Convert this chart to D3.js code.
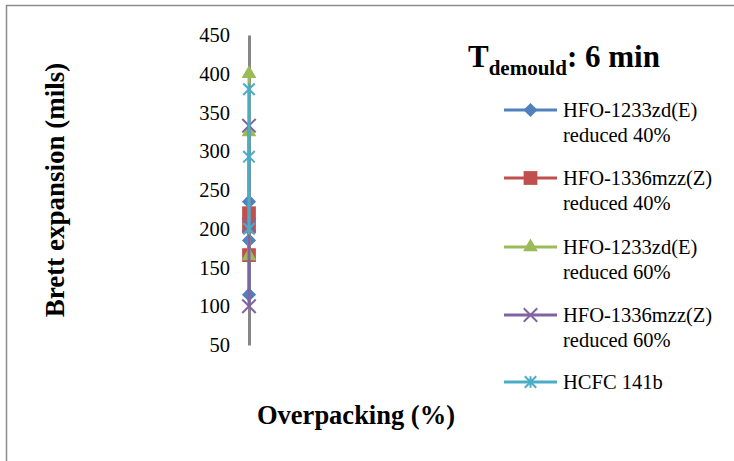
<!DOCTYPE html>
<html>
<head>
<meta charset="utf-8">
<script src="https://cdn.jsdelivr.net/npm/d3@7"></script>
<style>
  html, body { margin: 0; padding: 0; background: #fff; }
  svg { display: block; }
  svg text { font-family: "Liberation Serif", "Times New Roman", Tinos, "DejaVu Serif", serif; fill: #000; }
</style>
</head>
<body>
<svg id="chart" width="734" height="461"></svg>
<script>
// ---- data ----
const xCategories = [0];                 // all readings share one overpacking value
const yTicks = [50, 100, 150, 200, 250, 300, 350, 400, 450];
const seriesNames = [
  ["HFO-1233zd(E)", "reduced 40%"],
  ["HFO-1336mzz(Z)", "reduced 40%"],
  ["HFO-1233zd(E)", "reduced 60%"],
  ["HFO-1336mzz(Z)", "reduced 60%"],
  ["HCFC 141b"]
];
const hfo1233_40 = [235, 185, 115];
const hfo1336_40 = [220, 203, 166];
const hfo1233_60 = [400, 325, 165];
const hfo1336_60 = [333, 205, 100];
const hcfc141b   = [380, 293, 200];
const seriesValues = [hfo1233_40, hfo1336_40, hfo1233_60, hfo1336_60, hcfc141b];
const seriesColors = ["#4F81BD", "#C0504D", "#9BBB59", "#8064A2", "#4BACC6"];

const FONT = '"Liberation Serif", "Times New Roman", Tinos, "DejaVu Serif", serif';

// ---- layout ----
const svg = d3.select("#chart");
svg.append("rect").attr("x", 6.5).attr("y", 5.5).attr("width", 760).attr("height", 480)
  .attr("fill", "#fff").attr("stroke", "#8c8c8c").attr("stroke-width", 1.5);

const plotTop = 35, plotBottom = 345, axisX = 249;
const x = d3.scaleLinear().domain([0, 1]).range([axisX, 440]);
const y = d3.scaleLinear().domain([50, 450]).range([plotBottom, plotTop]);

// y axis
const yAxis = svg.append("g").attr("transform", `translate(${x(0)},0)`)
  .call(d3.axisLeft(y).tickValues(yTicks).tickSize(0).tickPadding(19).tickFormat(d3.format("d")));
yAxis.attr("font-family", FONT).attr("font-size", 20.5);
yAxis.select(".domain").attr("stroke", "#868686").attr("stroke-width", 3);
yAxis.selectAll("text").style("font-family", FONT).style("font-size", "20.5px").attr("fill", "#000");

// Excel-like star marker: an X plus a vertical stroke
const symbolStar = {
  draw(ctx, size) {
    const r = Math.sqrt(size) / 2;
    ctx.moveTo(-r, -r); ctx.lineTo(r, r);
    ctx.moveTo(r, -r); ctx.lineTo(-r, r);
    ctx.moveTo(0, -r); ctx.lineTo(0, r);
  }
};

// symbols
function symbolFor(i) {
  const gens = [
    d3.symbol().type(d3.symbolSquare).size(100),
    d3.symbol().type(d3.symbolSquare).size(190),
    d3.symbol().type(d3.symbolTriangle).size(95),
    d3.symbol().type(d3.symbolTimes).size(120),
    d3.symbol().type(symbolStar).size(130)
  ];
  return gens[i]();
}
function drawMarker(g, i, cx, cy) {
  const color = seriesColors[i];
  const p = g.append("path").attr("d", symbolFor(i));
  if (i === 0) p.attr("transform", `translate(${cx},${cy}) rotate(45)`);
  else p.attr("transform", `translate(${cx},${cy})`);
  if (i >= 3) p.attr("fill", "none").attr("stroke", color).attr("stroke-width", 2);
  else p.attr("fill", color);
}

// series
const line = d3.line().x(d => x(d.x)).y(d => y(d.y));
seriesValues.forEach((vals, i) => {
  const pts = vals.map(v => ({ x: xCategories[0], y: v }));
  const g = svg.append("g");
  g.append("path").attr("d", line(pts)).attr("fill", "none")
    .attr("stroke", seriesColors[i]).attr("stroke-width", 3);
  pts.forEach(p => drawMarker(g, i, x(p.x), y(p.y)));
});

// axis titles
svg.append("text").attr("transform", "translate(64,190) rotate(-90)")
  .attr("text-anchor", "middle").style("font-family", FONT).style("font-size", "27px").style("font-weight", "bold")
  .text("Brett expansion (mils)");
svg.append("text").attr("x", 356).attr("y", 424)
  .attr("text-anchor", "middle").style("font-family", FONT).style("font-size", "26.5px").style("font-weight", "bold")
  .text("Overpacking (%)");

// title
const title = svg.append("text").attr("x", 468).attr("y", 67).style("font-family", FONT)
  .style("font-weight", "bold").style("font-size", "31px");
title.append("tspan").text("T");
title.append("tspan").attr("dy", 8).style("font-size", "21px").text("demould");
title.append("tspan").attr("dy", -8).text(": 6 min");

// legend
const legendY = [110, 178, 247, 315, 382];
seriesNames.forEach((lines, i) => {
  const ly = legendY[i];
  const g = svg.append("g");
  g.append("line").attr("x1", 504).attr("x2", 557).attr("y1", ly).attr("y2", ly)
    .attr("stroke", seriesColors[i]).attr("stroke-width", 3);
  drawMarker(g, i, 530.5, ly);
  lines.forEach((t, k) => {
    g.append("text").attr("x", 563).attr("y", ly + 7 + k * 25)
      .style("font-family", FONT).style("font-size", "20.5px").text(t);
  });
});
</script>
</body>
</html>
